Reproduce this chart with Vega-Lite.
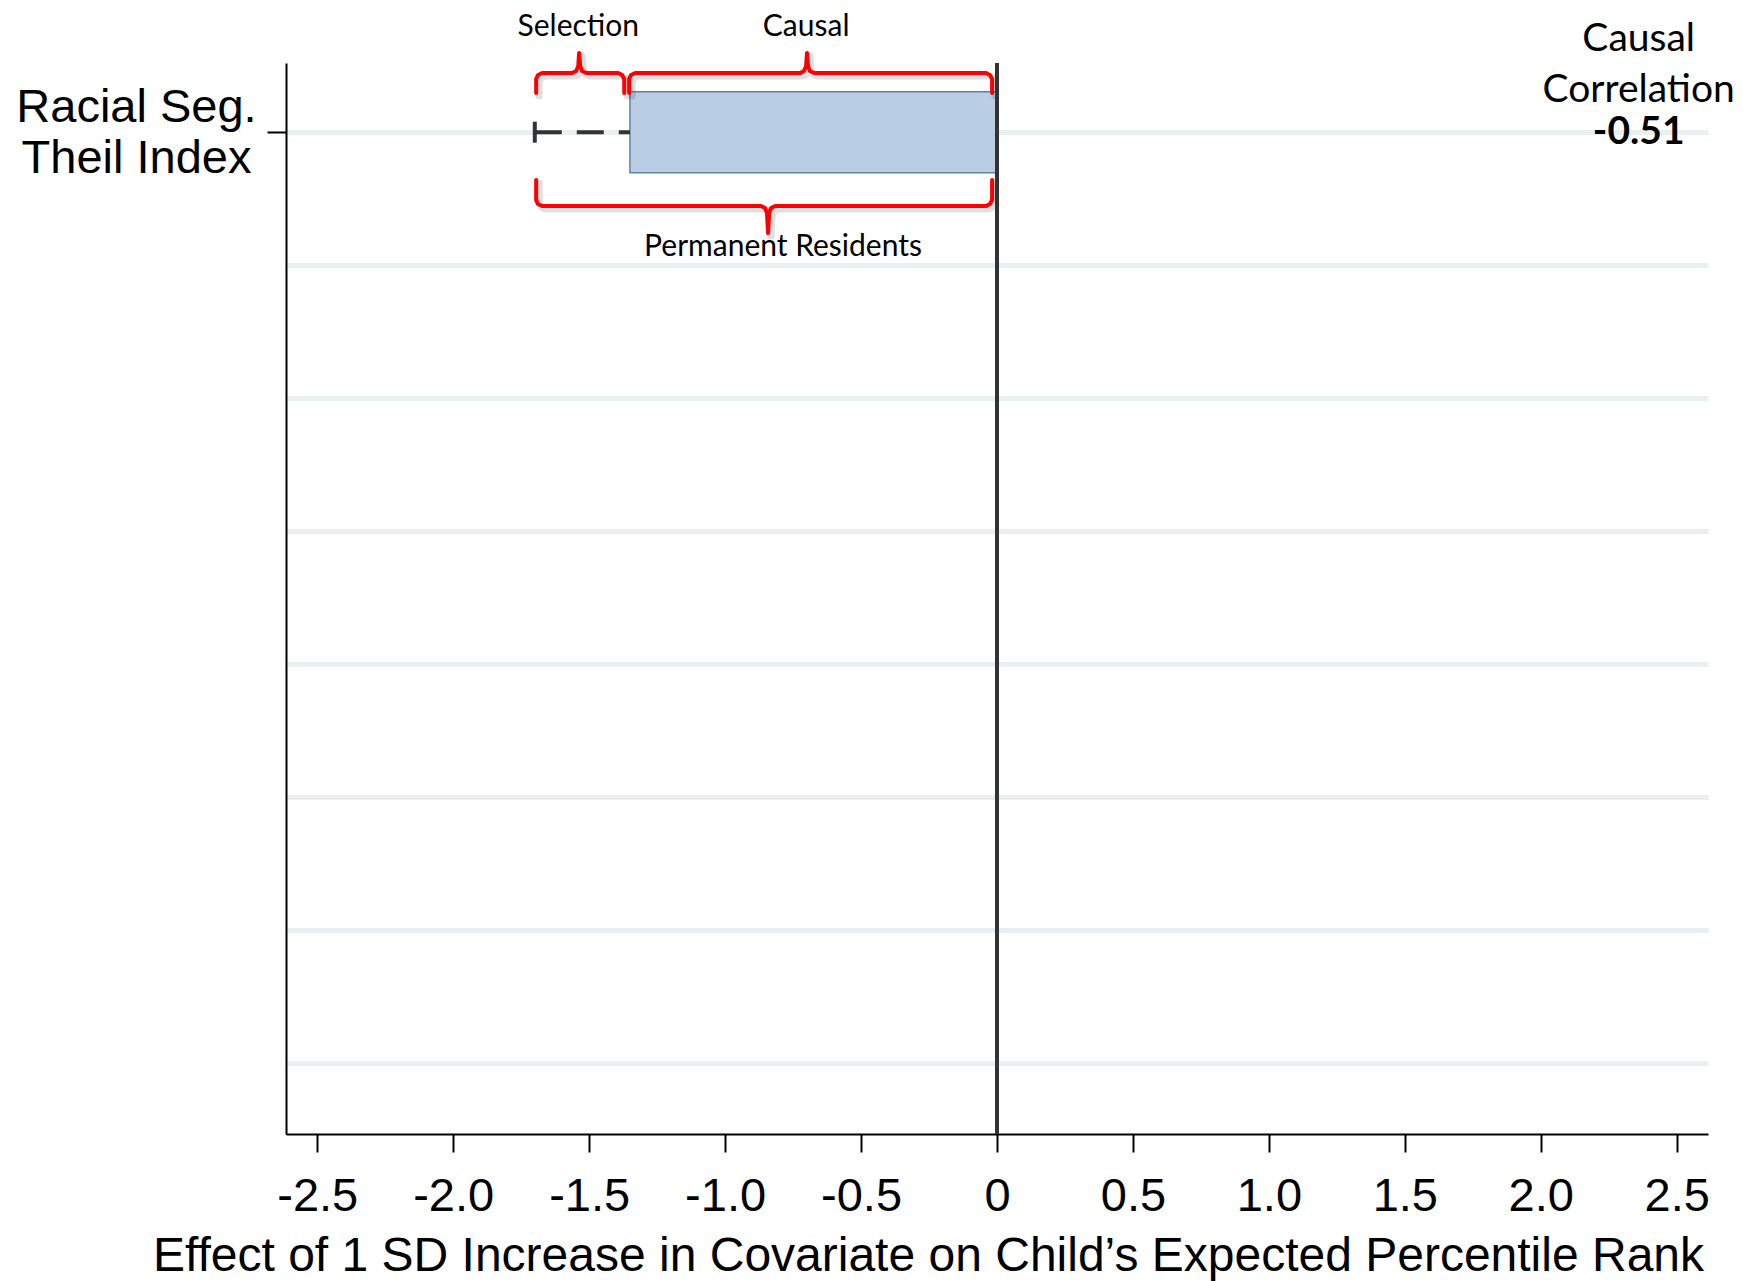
{
  "$schema": "https://vega.github.io/schema/vega-lite/v6.json",
  "width": 1422,
  "height": 1071,
  "autosize": {"type": "none"},
  "padding": {"left": 286, "top": 63, "right": 35, "bottom": 147},
  "background": "white",
  "config": {
    "view": {"stroke": null},
    "axis": {
      "labelFont": "Liberation Sans",
      "titleFont": "Liberation Sans",
      "labelColor": "#000000",
      "titleColor": "#000000",
      "labelFontSize": 47,
      "titleFontSize": 48,
      "titleFontWeight": "normal",
      "domainColor": "#000000",
      "domainWidth": 2,
      "tickColor": "#000000",
      "tickWidth": 2,
      "labelOverlap": false,
      "labelFlush": false,
      "labelLimit": 0
    }
  },
  "datasets": {
    "effects": [
      {"row": 1, "covariate": "Racial Seg. Theil Index", "permanent": -1.70, "causal": -1.35, "corr": -0.51}
    ],
    "braces": [
      {"b": "sel", "i": 1, "x": -1.695, "y": 0.705},
      {"b": "sel", "i": 2, "x": -1.695, "y": 0.600},
      {"b": "sel", "i": 3, "x": -1.688, "y": 0.570},
      {"b": "sel", "i": 4, "x": -1.673, "y": 0.555},
      {"b": "sel", "i": 5, "x": -1.563, "y": 0.555},
      {"b": "sel", "i": 6, "x": -1.548, "y": 0.540},
      {"b": "sel", "i": 7, "x": -1.540, "y": 0.502},
      {"b": "sel", "i": 8, "x": -1.537, "y": 0.405},
      {"b": "sel", "i": 9, "x": -1.533, "y": 0.502},
      {"b": "sel", "i": 10, "x": -1.526, "y": 0.540},
      {"b": "sel", "i": 11, "x": -1.511, "y": 0.555},
      {"b": "sel", "i": 12, "x": -1.393, "y": 0.555},
      {"b": "sel", "i": 13, "x": -1.379, "y": 0.570},
      {"b": "sel", "i": 14, "x": -1.371, "y": 0.600},
      {"b": "sel", "i": 15, "x": -1.371, "y": 0.705},
      {"b": "cau", "i": 1, "x": -1.353, "y": 0.705},
      {"b": "cau", "i": 2, "x": -1.353, "y": 0.600},
      {"b": "cau", "i": 3, "x": -1.346, "y": 0.570},
      {"b": "cau", "i": 4, "x": -1.331, "y": 0.555},
      {"b": "cau", "i": 5, "x": -0.724, "y": 0.555},
      {"b": "cau", "i": 6, "x": -0.710, "y": 0.540},
      {"b": "cau", "i": 7, "x": -0.702, "y": 0.502},
      {"b": "cau", "i": 8, "x": -0.699, "y": 0.405},
      {"b": "cau", "i": 9, "x": -0.695, "y": 0.502},
      {"b": "cau", "i": 10, "x": -0.688, "y": 0.540},
      {"b": "cau", "i": 11, "x": -0.673, "y": 0.555},
      {"b": "cau", "i": 12, "x": -0.040, "y": 0.555},
      {"b": "cau", "i": 13, "x": -0.026, "y": 0.570},
      {"b": "cau", "i": 14, "x": -0.018, "y": 0.600},
      {"b": "cau", "i": 15, "x": -0.018, "y": 0.705},
      {"b": "perm", "i": 1, "x": -1.695, "y": 1.359},
      {"b": "perm", "i": 2, "x": -1.695, "y": 1.510},
      {"b": "perm", "i": 3, "x": -1.688, "y": 1.540},
      {"b": "perm", "i": 4, "x": -1.673, "y": 1.555},
      {"b": "perm", "i": 5, "x": -0.868, "y": 1.555},
      {"b": "perm", "i": 6, "x": -0.853, "y": 1.570},
      {"b": "perm", "i": 7, "x": -0.846, "y": 1.608},
      {"b": "perm", "i": 8, "x": -0.842, "y": 1.758},
      {"b": "perm", "i": 9, "x": -0.838, "y": 1.608},
      {"b": "perm", "i": 10, "x": -0.831, "y": 1.570},
      {"b": "perm", "i": 11, "x": -0.816, "y": 1.555},
      {"b": "perm", "i": 12, "x": -0.040, "y": 1.555},
      {"b": "perm", "i": 13, "x": -0.026, "y": 1.540},
      {"b": "perm", "i": 14, "x": -0.018, "y": 1.510},
      {"b": "perm", "i": 15, "x": -0.018, "y": 1.359}
    ],
    "braceLabels": [
      {"label": "Selection", "x": -1.54, "y": 0.21},
      {"label": "Causal", "x": -0.702, "y": 0.21},
      {"label": "Permanent Residents", "x": -0.787, "y": 1.86}
    ]
  },
  "layer": [
    {
      "data": {"name": "effects"},
      "mark": {"type": "bar", "size": 81, "fill": "#b9cde5", "stroke": "#6082a8", "strokeWidth": 1.5},
      "encoding": {
        "x": {
          "field": "causal",
          "type": "quantitative",
          "scale": {"domain": [-2.615, 2.615], "nice": false, "zero": false, "padding": 0},
          "axis": {
            "values": [-2.5, -2, -1.5, -1, -0.5, 0, 0.5, 1, 1.5, 2, 2.5],
            "grid": false,
            "tickSize": 18,
            "labelPadding": 21,
            "labelExpr": "datum.value == 0 ? '0' : (datum.value < 0 ? '-' : '') + format(abs(datum.value), '.1f')",
            "title": "Effect of 1 SD Increase in Covariate on Child’s Expected Percentile Rank",
            "titleX": 642,
            "titleY": 136,
            "titleAlign": "center",
            "titleBaseline": "alphabetic"
          }
        },
        "x2": {"datum": 0},
        "y": {
          "field": "row",
          "type": "quantitative",
          "scale": {"domain": [0.48, 8.53], "reverse": true, "nice": false, "zero": false, "padding": 0},
          "axis": {
            "values": [1, 2, 3, 4, 5, 6, 7, 8],
            "grid": true,
            "gridColor": "#e9f0f2",
            "gridWidth": 5,
            "tickSize": 19,
            "tickOpacity": {"condition": {"test": "datum.value == 1", "value": 1}, "value": 0},
            "labelExpr": "datum.value == 1 ? ['Racial Seg.', 'Theil Index'] : ''",
            "labelAlign": "center",
            "labelBaseline": "middle",
            "labelPadding": 131,
            "labelOffset": -25,
            "labelLineHeight": 51,
            "title": null
          }
        }
      }
    },
    {
      "data": {"name": "effects"},
      "mark": {"type": "rule", "color": "#333333", "strokeWidth": 4, "strokeDash": [27, 15], "strokeCap": "butt"},
      "encoding": {
        "x": {"field": "permanent", "type": "quantitative"},
        "x2": {"field": "causal"},
        "y": {"field": "row", "type": "quantitative"}
      }
    },
    {
      "data": {"name": "effects"},
      "mark": {"type": "tick", "orient": "vertical", "size": 21, "thickness": 4, "color": "#333333", "opacity": 1},
      "encoding": {
        "x": {"field": "permanent", "type": "quantitative"},
        "y": {"field": "row", "type": "quantitative"}
      }
    },
    {
      "data": {"name": "braces"},
      "mark": {"type": "line", "color": "#000000", "opacity": 0.12, "strokeWidth": 7, "xOffset": 3, "yOffset": 3, "strokeJoin": "round", "strokeCap": "round"},
      "encoding": {
        "x": {"field": "x", "type": "quantitative"},
        "y": {"field": "y", "type": "quantitative"},
        "detail": {"field": "b"},
        "order": {"field": "i"}
      }
    },
    {
      "data": {"name": "braces"},
      "mark": {"type": "line", "color": "#ff0000", "strokeWidth": 4, "strokeJoin": "round", "strokeCap": "round"},
      "encoding": {
        "x": {"field": "x", "type": "quantitative"},
        "y": {"field": "y", "type": "quantitative"},
        "detail": {"field": "b"},
        "order": {"field": "i"}
      }
    },
    {
      "data": {"name": "braceLabels"},
      "mark": {"type": "text", "font": "Lato", "fontSize": 30, "color": "#000000", "align": "center", "baseline": "middle"},
      "encoding": {
        "x": {"field": "x", "type": "quantitative"},
        "y": {"field": "y", "type": "quantitative"},
        "text": {"field": "label"}
      }
    },
    {
      "data": {"name": "effects"},
      "mark": {"type": "rule", "color": "#333333", "strokeWidth": 4},
      "encoding": {
        "x": {"datum": 0}
      }
    },
    {
      "data": {"name": "effects"},
      "mark": {"type": "text", "text": ["Causal", "Correlation"], "font": "Lato", "fontSize": 39, "lineHeight": 51, "color": "#000000", "align": "center", "baseline": "alphabetic", "dy": -81},
      "encoding": {
        "x": {"datum": 2.36},
        "y": {"field": "row", "type": "quantitative"}
      }
    },
    {
      "data": {"name": "effects"},
      "mark": {"type": "text", "font": "Lato", "fontSize": 39, "fontWeight": "bold", "color": "#000000", "align": "center", "baseline": "middle"},
      "encoding": {
        "x": {"datum": 2.36},
        "y": {"field": "row", "type": "quantitative"},
        "text": {"field": "corr", "type": "nominal"}
      }
    }
  ]
}
